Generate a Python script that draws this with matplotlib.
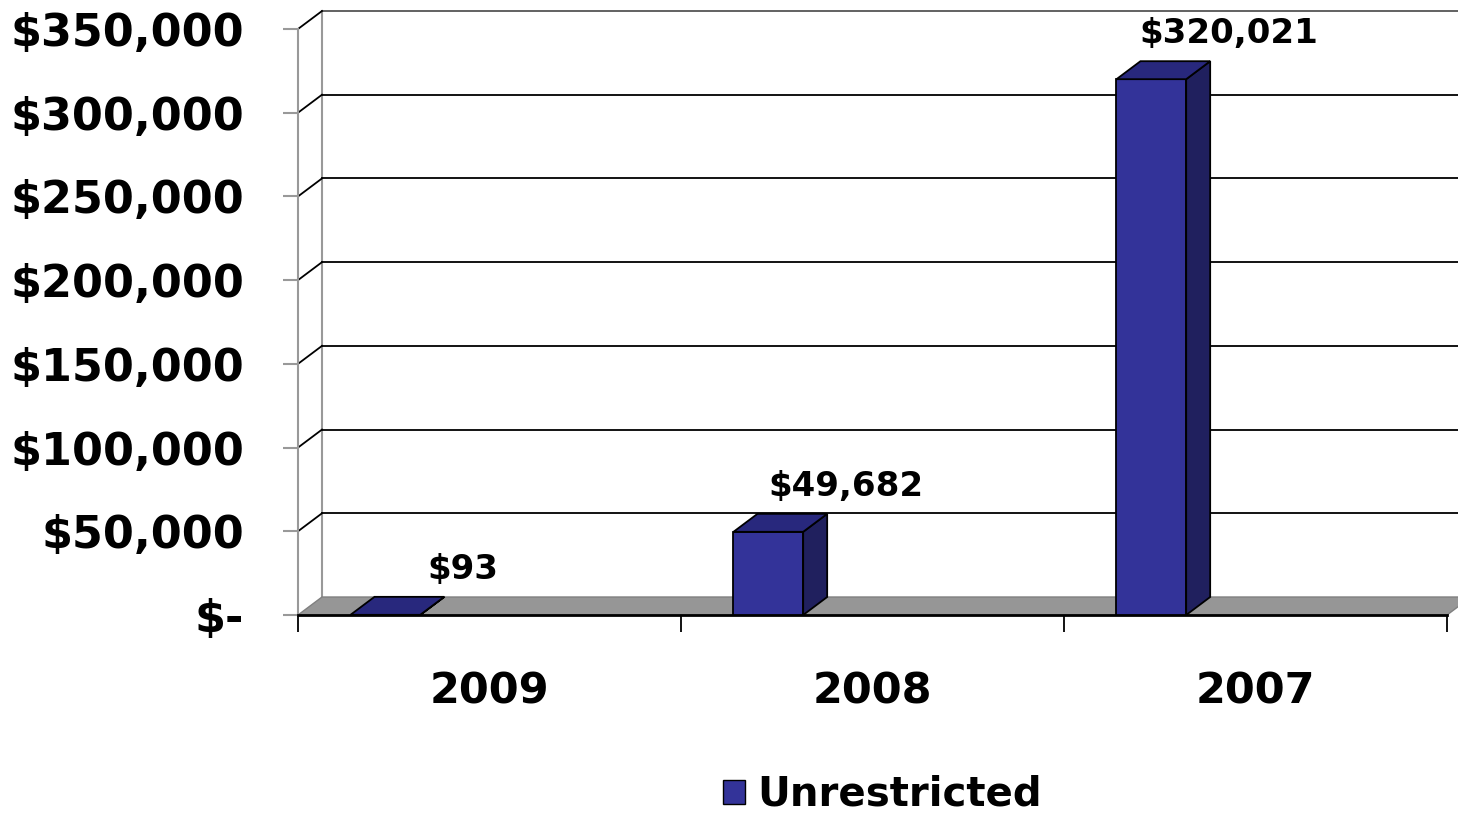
import matplotlib
matplotlib.use("Agg")
import matplotlib.pyplot as plt
from matplotlib.patches import Polygon, Patch

# values
years = ["2009", "2008", "2007"]
unrestricted = [93, 49682, 320021]
value_labels = ["$93", "$49,682", "$320,021"]
y_ticks = [0, 50000, 100000, 150000, 200000, 250000, 300000, 350000]
y_tick_labels = ["$-", "$50,000", "$100,000", "$150,000", "$200,000",
                 "$250,000", "$300,000", "$350,000"]
series_name = "Unrestricted"

# look
FRONT = "#333399"
TOP = "#28287d"
SIDE = "#20205e"
FLOOR = "#969696"
AXIS_GRAY = "#999999"

# fake 3d depth (in category units / value units)
DX = 24 / 383
DY = 18 * 350000 / 586
BAR_OFF = 0.137
BAR_W = 0.182

W, H = 1458, 816
fig = plt.figure(figsize=(W / 100, H / 100), dpi=100)
ax = fig.add_axes([298 / W, (H - 615) / H, (W - 298) / W, 615 / H])
ax.set_xlim(0, (W - 298) / 383)
ax.set_ylim(0, 615 * 350000 / 586)
n = len(years)

for s in ["top", "right", "bottom"]:
    ax.spines[s].set_visible(False)
ax.spines["left"].set_color(AXIS_GRAY)
ax.spines["left"].set_linewidth(1.5)
ax.spines["left"].set_bounds(0, y_ticks[-1])

# back wall: left edge, gridlines and the slanted connectors
ax.plot([DX, DX], [DY, y_ticks[-1] + DY], color=AXIS_GRAY, lw=1.5, zorder=1)
for v in y_ticks[1:]:
    c = "#555555" if v == y_ticks[-1] else "black"
    ax.plot([DX, 4], [v + DY, v + DY], color=c, lw=1.3, zorder=1, clip_on=False)
    ax.plot([0, DX], [v, v + DY], color="black", lw=1.3, zorder=1)

# floor
floor = Polygon([(0, 0), (n, 0), (n + DX, DY), (DX, DY)], closed=True,
                facecolor=FLOOR, edgecolor="#808080", lw=1, zorder=2, clip_on=False)
ax.add_patch(floor)
ax.plot([0, n], [0, 0], color="black", lw=2, zorder=3, clip_on=False)

# bars: front faces via bar(), top and side as polygons
xs = [i + BAR_OFF for i in range(n)]
ax.bar(xs, unrestricted, width=BAR_W, align="edge", color=FRONT,
       edgecolor="black", linewidth=1.3, zorder=4)
for x0, v in zip(xs, unrestricted):
    top = Polygon([(x0, v), (x0 + BAR_W, v), (x0 + BAR_W + DX, v + DY), (x0 + DX, v + DY)],
                  closed=True, facecolor=TOP, edgecolor="black", lw=1.3, zorder=4)
    side = Polygon([(x0 + BAR_W, 0), (x0 + BAR_W + DX, DY), (x0 + BAR_W + DX, v + DY),
                    (x0 + BAR_W, v)],
                   closed=True, facecolor=SIDE, edgecolor="black", lw=1.3, zorder=4)
    ax.add_patch(side)
    ax.add_patch(top)

for i, (v, lab) in enumerate(zip(unrestricted, value_labels)):
    ax.text(i + 0.43, v + DY + 6500, lab, ha="center", va="bottom",
            fontsize=24.5, fontweight="bold", color="black", zorder=5)

# axes ticks
ax.set_yticks(y_ticks)
ax.set_yticklabels(y_tick_labels, fontsize=32, fontweight="bold")
ax.tick_params(axis="y", length=10.8, width=1.5, color=AXIS_GRAY, pad=28)

ax.set_xticks(range(n + 1))
ax.set_xticklabels([""] * (n + 1))
ax.tick_params(axis="x", which="major", length=12, width=1.3, color="black", direction="out")
ax.set_xticks([i + 0.5 for i in range(n)], minor=True)
ax.set_xticklabels(years, minor=True, fontsize=31, fontweight="bold")
ax.tick_params(axis="x", which="minor", length=0, pad=40)

fig.legend(handles=[Patch(facecolor=FRONT, edgecolor="black", lw=1)], labels=[series_name],
           loc="center", bbox_to_anchor=(882 / W, 1 - 795 / H), frameon=False,
           prop={"size": 29, "weight": "bold"}, handlelength=0.55, handleheight=0.55,
           handletextpad=0.3, borderpad=0)

fig.savefig("out.png", dpi=100, facecolor="white")
